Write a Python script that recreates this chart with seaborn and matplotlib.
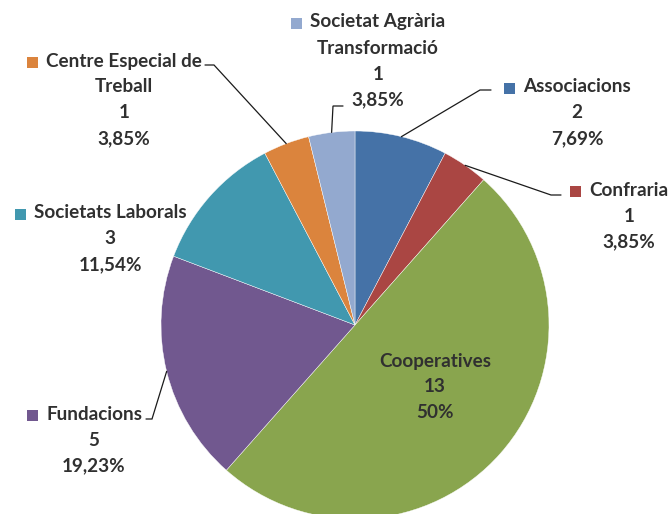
import numpy as np
import matplotlib.pyplot as plt
import seaborn as sns
from matplotlib.patches import Rectangle

categories = ['Associacions', 'Confraria', 'Cooperatives', 'Fundacions',
              'Societats Laborals', 'Centre Especial de\nTreball',
              'Societat Agrària\nTransformació']
counts = [2, 1, 13, 5, 3, 1, 1]
colors = ['#4572A7', '#AA4643', '#89A54E', '#71588F',
          '#4198AF', '#DB843D', '#93A9CF']

# label layout in pixels from the top-left: text centre x, first line y, show key square
label_xy = [(577, 87, True), (629, 190, True), (435, 361, False), (94, 414, True),
            (110, 213, True), (124, 61, True), (378, 22, True)]
# leader lines: elbow and stub end (None = no leader)
leaders = [((480, 90), (491, 90)), ((551, 195), (561, 195)), None,
           ((152, 419), (146, 419)), None,
           ((214, 65), (205, 65)), ((333, 106), (343, 106))]

W, H = 671, 514
CX, CY, R = 355, 325, 194
TEXT = '#303030'


def fmt_pct(c, total):
    s = f"{100 * c / total:.2f}".rstrip('0').rstrip('.')
    return s.replace('.', ',') + '%'


sns.set_theme(style='white')
plt.rcParams['font.family'] = ['Lato', 'DejaVu Sans']

fig = plt.figure(figsize=(W / 100, H / 100), dpi=100)
ax = fig.add_axes([0, 0, 1, 1])
ax.set_xlim(0, W)
ax.set_ylim(0, H)
ax.axis('off')

total = sum(counts)
wedges, _ = ax.pie(counts, colors=colors, startangle=90, counterclock=False,
                   center=(CX, H - CY), radius=R,
                   wedgeprops=dict(edgecolor='white', linewidth=0.3))
ax.set_xlim(0, W)
ax.set_ylim(0, H)
ax.set_aspect('auto')

texts = []
for cat, c, (x, y, key) in zip(categories, counts, label_xy):
    lines = cat.split('\n') + [str(c), fmt_pct(c, total)]
    first = None
    for i, line in enumerate(lines):
        t = ax.text(x, H - (y + i * 26), line, ha='center', va='center',
                    fontsize=13.6, fontweight='bold', color=TEXT)
        if first is None:
            first = t
    texts.append((first, key))

for w, ld in zip(wedges, leaders):
    if ld is None:
        continue
    mid = np.deg2rad((w.theta1 + w.theta2) / 2)
    ex, ey = CX + R * np.cos(mid), (H - CY) + R * np.sin(mid)
    (bx, by), (sx, sy) = ld
    ax.plot([ex, bx, sx], [ey, H - by, H - sy], color='#1a1a1a', lw=0.9,
            solid_joinstyle='miter')

fig.canvas.draw()
renderer = fig.canvas.get_renderer()
for (t, key), col in zip(texts, colors):
    if not key:
        continue
    bb = t.get_window_extent(renderer)
    yc = (bb.y0 + bb.y1) / 2 - 1
    ax.add_patch(Rectangle((bb.x0 - 19, yc - 5.5), 11, 11, color=col, lw=0))

fig.savefig('out.png', dpi=100)
